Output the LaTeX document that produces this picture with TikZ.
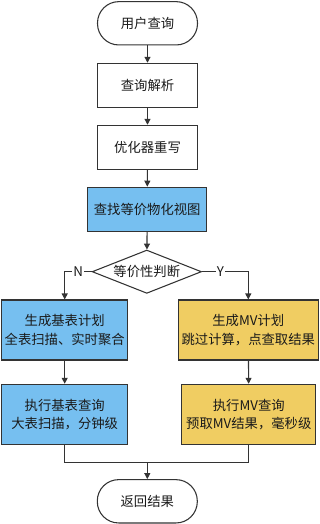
\documentclass[tikz,border=0pt]{standalone}
\usepackage{fontspec}
\setmainfont{Noto Sans CJK SC}
\usepackage{tikz}
\usetikzlibrary{arrows.meta,positioning,shapes.geometric}
\usepackage{xcolor}
\definecolor{flowline}{HTML}{333333}
\definecolor{flowtext}{HTML}{1A1A1A}
\definecolor{baseblue}{HTML}{76BFF0}
\definecolor{mvgold}{HTML}{F0CD62}

\tikzset{
  flowbase/.style={draw=flowline, line width=0.8pt, text=flowtext, inner sep=0pt,
                   align=center, font=\fontsize{10}{13.75}\selectfont},
  terminal/.style={flowbase, rectangle, rounded corners=16pt, minimum width=75pt, minimum height=32.5pt},
  stepbox/.style={flowbase, rectangle, minimum width=75pt, minimum height=33pt},
  decision/.style={flowbase, diamond, aspect=2.5, minimum width=82pt, minimum height=32.5pt},
  arr/.style={draw=flowline, line width=0.8pt, -{Triangle[length=4.5pt,width=4.5pt]}},
  link/.style={draw=flowline, line width=0.8pt},
  tag/.style={fill=white, text=flowtext, inner sep=1pt, font=\fontsize{10}{12}\selectfont}
}

\begin{document}
\begin{tikzpicture}[x=0.75pt, y=-0.75pt]
  \useasboundingbox (0,0) rectangle (319,524);
  % main column
  \node[terminal] (start) at (147.5,23.3) {用户查询};
  \node[stepbox] (parse) at (147.5,85.3) {查询解析};
  \node[stepbox] (rewrite) at (147.5,147.3) {优化器重写};
  \node[stepbox, fill=baseblue, minimum width=89pt] (find) at (147.2,209.2) {查找等价物化视图};
  \node[decision] (judge) at (146.8,271.7) {等价性判断};
  % two branches
  \node[stepbox, fill=baseblue, minimum width=94.5pt, minimum height=45pt] (baseplan) at (64.7,330)
      {生成基表计划\\全表扫描、实时聚合};
  \node[stepbox, fill=mvgold, minimum width=105pt, minimum height=45pt] (mvplan) at (248.3,330)
      {生成MV计划\\跳过计算，点查取结果};
  \node[stepbox, fill=baseblue, minimum width=94.5pt, minimum height=45pt] (baserun) at (64.7,414.3)
      {执行基表查询\\大表扫描，分钟级};
  \node[stepbox, fill=mvgold, minimum width=100.5pt, minimum height=45pt] (mvrun) at (248.8,414.3)
      {执行MV查询\\预取MV结果，毫秒级};
  \coordinate (merge) at (147.3,462.7);
  \node[terminal] (finish) at (147.3,501.3) {返回结果};
  % connectors
  \draw[arr] (start) -- (parse);
  \draw[arr] (parse) -- (rewrite);
  \draw[arr] (rewrite) -- (find);
  \draw[arr] (find) -- (judge);
  \draw[arr] (judge.west) -| node[tag, pos=0.25] {N} (baseplan.north);
  \draw[arr] (judge.east) -| node[tag, pos=0.2] {Y} (mvplan.north);
  \draw[arr] (baseplan) -- (baserun);
  \draw[arr] (mvplan) -- (mvrun);
  \draw[link] (baserun.south) |- (merge) -| (mvrun.south);
  \draw[arr] (merge) -- (finish);
\end{tikzpicture}
\end{document}
